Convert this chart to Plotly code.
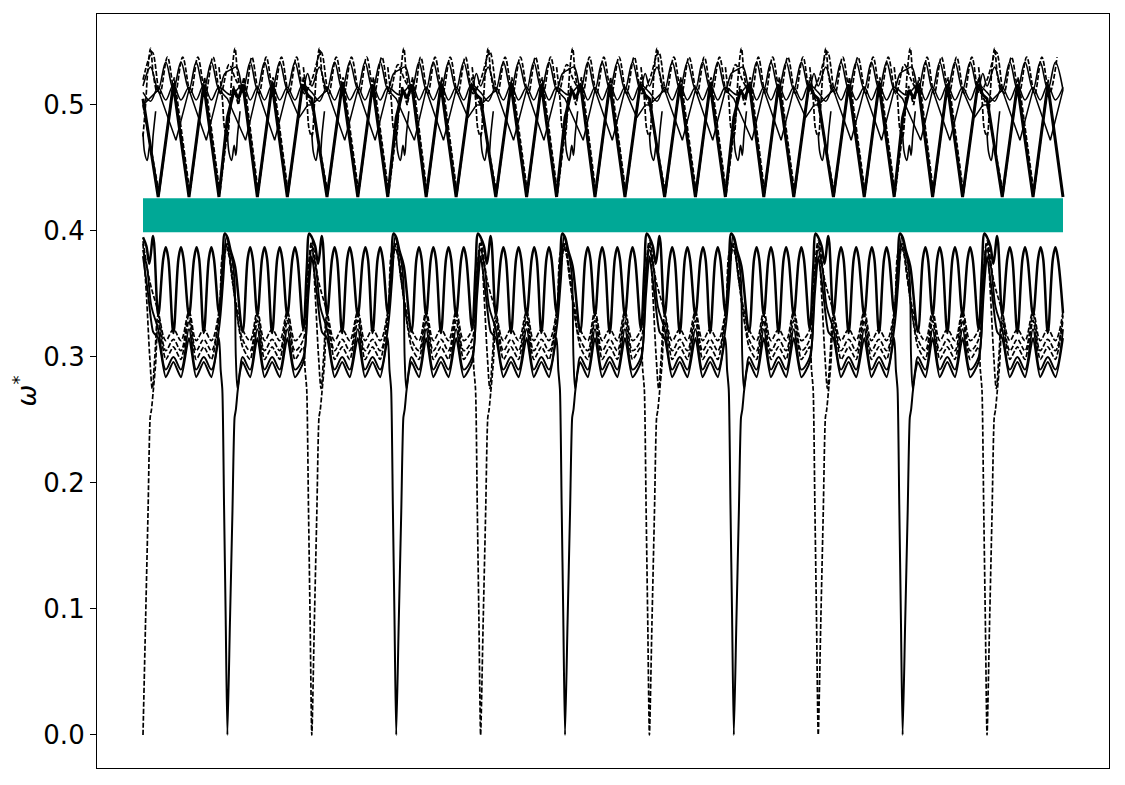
import plotly.graph_objects as go

# Path coordinate u: one unit between two successive dips (omega* = 0); the
# band pattern repeats every two units along the path.
TILE_STARTS = [0, 2, 4, 6, 8, 10]
U_END = 10.90
DIP_U = [0, 1, 2, 3, 4, 5, 6, 7, 8, 9, 10]

# complete band gap
GAP_LOW = 0.399
GAP_HIGH = 0.426

# ---- lower bands (one repeat, u = 0 .. 2) ----
LOW_OSC_U = [0.00, 0.04, 0.075, 0.12, 0.18,
             0.24, 0.27, 0.30, 0.36, 0.42, 0.45, 0.48, 0.545, 0.605, 0.635, 0.665,
             0.72, 0.78, 0.81, 0.84, 0.90, 0.94, 0.97, 1.00, 1.04, 1.09, 1.18,
             1.24, 1.27, 1.30, 1.355, 1.41, 1.44, 1.47, 1.53, 1.59, 1.62, 1.65,
             1.71, 1.77, 1.80, 1.83, 1.90, 1.94, 1.97]
LOW_OSC_W = [0.395, 0.388, 0.374, 0.396, 0.333,
             0.378, 0.387, 0.378, 0.319, 0.378, 0.387, 0.378, 0.333, 0.378, 0.387, 0.378,
             0.319, 0.378, 0.387, 0.378, 0.335, 0.370, 0.398, 0.395, 0.384, 0.372, 0.320,
             0.378, 0.387, 0.378, 0.333, 0.378, 0.387, 0.378, 0.319, 0.378, 0.387, 0.378,
             0.333, 0.378, 0.387, 0.378, 0.322, 0.370, 0.398]

D1_U = [0.00, 0.08, 0.18, 0.27, 0.36, 0.45, 0.545, 0.63, 0.72, 0.81, 0.90, 0.95,
        1.00, 1.06, 1.18, 1.27, 1.355, 1.44, 1.53, 1.62, 1.71, 1.80, 1.90, 1.95]
D1_W = [0.392, 0.360, 0.336, 0.313, 0.322, 0.313, 0.336, 0.313, 0.322, 0.313, 0.336, 0.370,
        0.390, 0.360, 0.322, 0.313, 0.336, 0.313, 0.322, 0.313, 0.336, 0.313, 0.322, 0.360]

D2_U = [0.00, 0.04, 0.08, 0.11, 0.14, 0.18, 0.27, 0.36, 0.45, 0.545, 0.63, 0.72, 0.81,
        0.90, 0.96, 1.00, 1.05, 1.10, 1.18, 1.27, 1.355, 1.44, 1.53, 1.62, 1.71, 1.80,
        1.90, 1.96]
D2_W = [0.390, 0.350, 0.300, 0.275, 0.300, 0.333, 0.305, 0.314, 0.305, 0.333, 0.305, 0.314, 0.305,
        0.333, 0.385, 0.385, 0.370, 0.340, 0.314, 0.305, 0.333, 0.305, 0.314, 0.305, 0.333, 0.305,
        0.314, 0.370]

# dashed branch that drops to zero at the even dips
D3_U = [0.00, 0.03, 0.06, 0.085, 0.10, 0.12, 0.15, 0.18, 0.27, 0.36, 0.45, 0.545, 0.63, 0.72,
        0.81, 0.90, 0.95, 0.98, 1.02, 1.08, 1.18, 1.27, 1.355, 1.44, 1.53, 1.62, 1.71,
        1.80, 1.90, 1.92, 1.94, 1.96, 1.98]
D3_W = [0.000, 0.089, 0.178, 0.252, 0.258, 0.272, 0.295, 0.329, 0.298, 0.308, 0.298, 0.329, 0.298, 0.308,
        0.298, 0.329, 0.370, 0.390, 0.380, 0.350, 0.308, 0.298, 0.329, 0.298, 0.308, 0.298, 0.329,
        0.298, 0.308, 0.290, 0.274, 0.183, 0.091]

S2_U = [0.00, 0.05, 0.10, 0.18, 0.27, 0.36, 0.45, 0.545, 0.63, 0.72, 0.81, 0.90, 0.95,
        0.99, 1.02, 1.06, 1.085, 1.10, 1.12, 1.15, 1.18, 1.27, 1.355, 1.44, 1.53, 1.62,
        1.71, 1.80, 1.90, 1.95]
S2_W = [0.385, 0.370, 0.340, 0.322, 0.290, 0.300, 0.290, 0.322, 0.290, 0.300, 0.290, 0.322, 0.360,
        0.396, 0.388, 0.376, 0.360, 0.300, 0.275, 0.290, 0.300, 0.290, 0.322, 0.290, 0.300, 0.290,
        0.322, 0.290, 0.300, 0.350]

# solid branch that drops to zero at the odd dips
S3_U = [0.00, 0.06, 0.12, 0.18, 0.27, 0.36, 0.45, 0.545, 0.63, 0.72, 0.81, 0.90, 0.92,
        0.94, 0.96, 0.98, 1.00, 1.03, 1.06, 1.085, 1.10, 1.12, 1.15, 1.18, 1.27, 1.355, 1.44, 1.53,
        1.62, 1.71, 1.80, 1.90, 1.96]
S3_W = [0.380, 0.350, 0.320, 0.315, 0.284, 0.296, 0.284, 0.315, 0.284, 0.296, 0.284, 0.315, 0.290,
        0.274, 0.183, 0.091, 0.000, 0.089, 0.178, 0.252, 0.258, 0.272, 0.288, 0.296, 0.284, 0.315, 0.284, 0.296,
        0.284, 0.315, 0.284, 0.296, 0.350]

# ---- upper bands (one repeat, u = 0 .. 2) ----
UV_U = [0.00, 0.18, 0.36, 0.545, 0.72, 0.90, 1.00, 1.08, 1.13, 1.185, 1.355, 1.53, 1.71, 1.89, 1.95]
UV_W = [0.505, 0.427, 0.516, 0.427, 0.516, 0.427, 0.490, 0.512, 0.505, 0.516, 0.427, 0.516, 0.427, 0.516, 0.508]

UV2_U = [0.00, 0.19, 0.37, 0.555, 0.73, 0.91, 1.00, 1.07, 1.13, 1.195, 1.365, 1.54, 1.72, 1.90, 1.96]
UV2_W = [0.500, 0.430, 0.522, 0.430, 0.522, 0.430, 0.480, 0.515, 0.500, 0.522, 0.430, 0.522, 0.430, 0.522, 0.505]

ARC_U = [0.00, 0.09, 0.18, 0.27, 0.36, 0.45, 0.545, 0.63, 0.72, 0.81, 0.90, 0.97, 1.04, 1.11,
         1.185, 1.27, 1.355, 1.44, 1.53, 1.62, 1.71, 1.80, 1.89, 1.95]
ARC_W = [0.515, 0.530, 0.512, 0.534, 0.512, 0.534, 0.512, 0.534, 0.512, 0.534, 0.512, 0.525, 0.528, 0.530,
         0.512, 0.534, 0.512, 0.534, 0.512, 0.534, 0.512, 0.534, 0.512, 0.525]

ARC2_U = [0.00, 0.11, 0.20, 0.29, 0.38, 0.47, 0.565, 0.65, 0.74, 0.83, 0.92, 1.02, 1.10,
          1.205, 1.29, 1.375, 1.46, 1.55, 1.64, 1.73, 1.82, 1.91]
ARC2_W = [0.520, 0.542, 0.509, 0.538, 0.509, 0.538, 0.509, 0.538, 0.509, 0.538, 0.509, 0.532, 0.520,
          0.509, 0.538, 0.509, 0.538, 0.509, 0.538, 0.509, 0.538, 0.509]

SC_U = [0.00, 0.09, 0.18, 0.27, 0.36, 0.45, 0.545, 0.63, 0.72, 0.81, 0.90, 1.04,
        1.185, 1.27, 1.355, 1.44, 1.53, 1.62, 1.71, 1.80, 1.89]
SC_W = [0.510, 0.503, 0.514, 0.504, 0.516, 0.504, 0.514, 0.504, 0.516, 0.504, 0.514, 0.508,
        0.516, 0.504, 0.514, 0.504, 0.516, 0.504, 0.514, 0.504, 0.516]

TV_U = [0.00, 0.18, 0.39, 0.545, 0.75, 0.90, 1.00, 1.215, 1.355, 1.56, 1.71, 1.85, 1.95]
TV_W = [0.500, 0.512, 0.472, 0.512, 0.472, 0.512, 0.505, 0.472, 0.512, 0.472, 0.512, 0.490, 0.500]

# tangled bits next to every dip (offsets from the dip)
NOTCH_DU = [-0.10, -0.06, -0.03, 0.00, 0.03, 0.06, 0.09, 0.12, 0.16]
NOTCH_W = [0.530, 0.505, 0.480, 0.475, 0.500, 0.530, 0.545, 0.525, 0.510]
LOOP_DU = [0.00, 0.02, 0.05, 0.08, 0.10, 0.12, 0.15]
LOOP_W = [0.478, 0.462, 0.456, 0.468, 0.460, 0.476, 0.495]

DASH = "5px,2px"


def tile(us, ws):
    xs, ys = [], []
    for t0 in TILE_STARTS:
        for u, w in zip(us, ws):
            if t0 + u <= U_END + 1e-9:
                xs.append(t0 + u)
                ys.append(w)
    return xs, ys


def around_dips(dus, ws):
    xs, ys = [], []
    for d in DIP_U:
        for du, w in zip(dus, ws):
            if 0 <= d + du <= U_END:
                xs.append(d + du)
                ys.append(w)
        xs.append(None)
        ys.append(None)
    return xs, ys


fig = go.Figure()

# band gap
fig.add_trace(go.Scatter(
    x=[0, U_END, U_END, 0, 0], y=[GAP_LOW, GAP_LOW, GAP_HIGH, GAP_HIGH, GAP_LOW],
    fill="toself", fillcolor="#00a896", line=dict(width=0), mode="lines",
    hoverinfo="skip", showlegend=False,
))

curves = [
    (LOW_OSC_U, LOW_OSC_W, 2.5, "solid", "spline", 1.0),
    (D1_U, D1_W, 1.7, DASH, "spline", 1.0),
    (D2_U, D2_W, 1.7, DASH, "spline", 1.0),
    (D3_U, D3_W, 1.7, DASH, "spline", 0.6),
    (S2_U, S2_W, 1.9, "solid", "spline", 1.0),
    (S3_U, S3_W, 2.0, "solid", "spline", 0.6),
    (UV_U, UV_W, 3.0, "solid", "linear", 1.0),
    (UV2_U, UV2_W, 1.8, DASH, "linear", 1.0),
    (ARC_U, ARC_W, 1.6, "solid", "spline", 1.0),
    (ARC2_U, ARC2_W, 1.7, DASH, "spline", 1.0),
    (SC_U, SC_W, 1.5, "solid", "spline", 1.0),
    (TV_U, TV_W, 1.5, "solid", "linear", 1.0),
]
for us, ws, lw, dash, shape, smooth in curves:
    xs, ys = tile(us, ws)
    line = dict(color="black", width=lw, dash=dash, shape=shape)
    if shape == "spline":
        line["smoothing"] = smooth
    fig.add_trace(go.Scatter(
        x=xs, y=ys, mode="lines", line=line,
        hoverinfo="skip", showlegend=False,
    ))

for dus, ws, lw, dash in [(NOTCH_DU, NOTCH_W, 1.7, DASH), (LOOP_DU, LOOP_W, 1.6, "solid")]:
    xs, ys = around_dips(dus, ws)
    fig.add_trace(go.Scatter(
        x=xs, y=ys, mode="lines", connectgaps=False,
        line=dict(color="black", width=lw, dash=dash, shape="spline"),
        hoverinfo="skip", showlegend=False,
    ))

# the page adds an 8 px body margin, so the figure is trimmed by that much
fig.update_layout(
    width=1117, height=777,
    margin=dict(l=89, r=16, t=6, b=17),
    paper_bgcolor="white", plot_bgcolor="white",
    font=dict(family="DejaVu Sans", size=26, color="black"),
    showlegend=False,
)
fig.update_xaxes(
    range=[-0.05 * U_END, 1.05 * U_END],
    showticklabels=False, ticks="", showgrid=False, zeroline=False,
    showline=True, mirror=True, linecolor="black", linewidth=1.2,
)
fig.update_yaxes(
    range=[-0.0262, 0.5722],
    tickvals=[0.0, 0.1, 0.2, 0.3, 0.4, 0.5],
    ticktext=["0.0", "0.1", "0.2", "0.3", "0.4", "0.5"],
    ticks="outside", ticklen=6, tickwidth=1.2, tickcolor="black",
    tickfont=dict(size=26, family="DejaVu Sans"),
    showgrid=False, zeroline=False,
    showline=True, mirror=True, linecolor="black", linewidth=1.2,
    title=dict(
        text='<span style="font-style:italic;font-size:26px">ω</span>'
             '<sup><span style="font-size:18px">*</span></sup>',
        font=dict(size=26, family="DejaVu Sans"), standoff=8,
    ),
)

fig.write_html("out.html")
